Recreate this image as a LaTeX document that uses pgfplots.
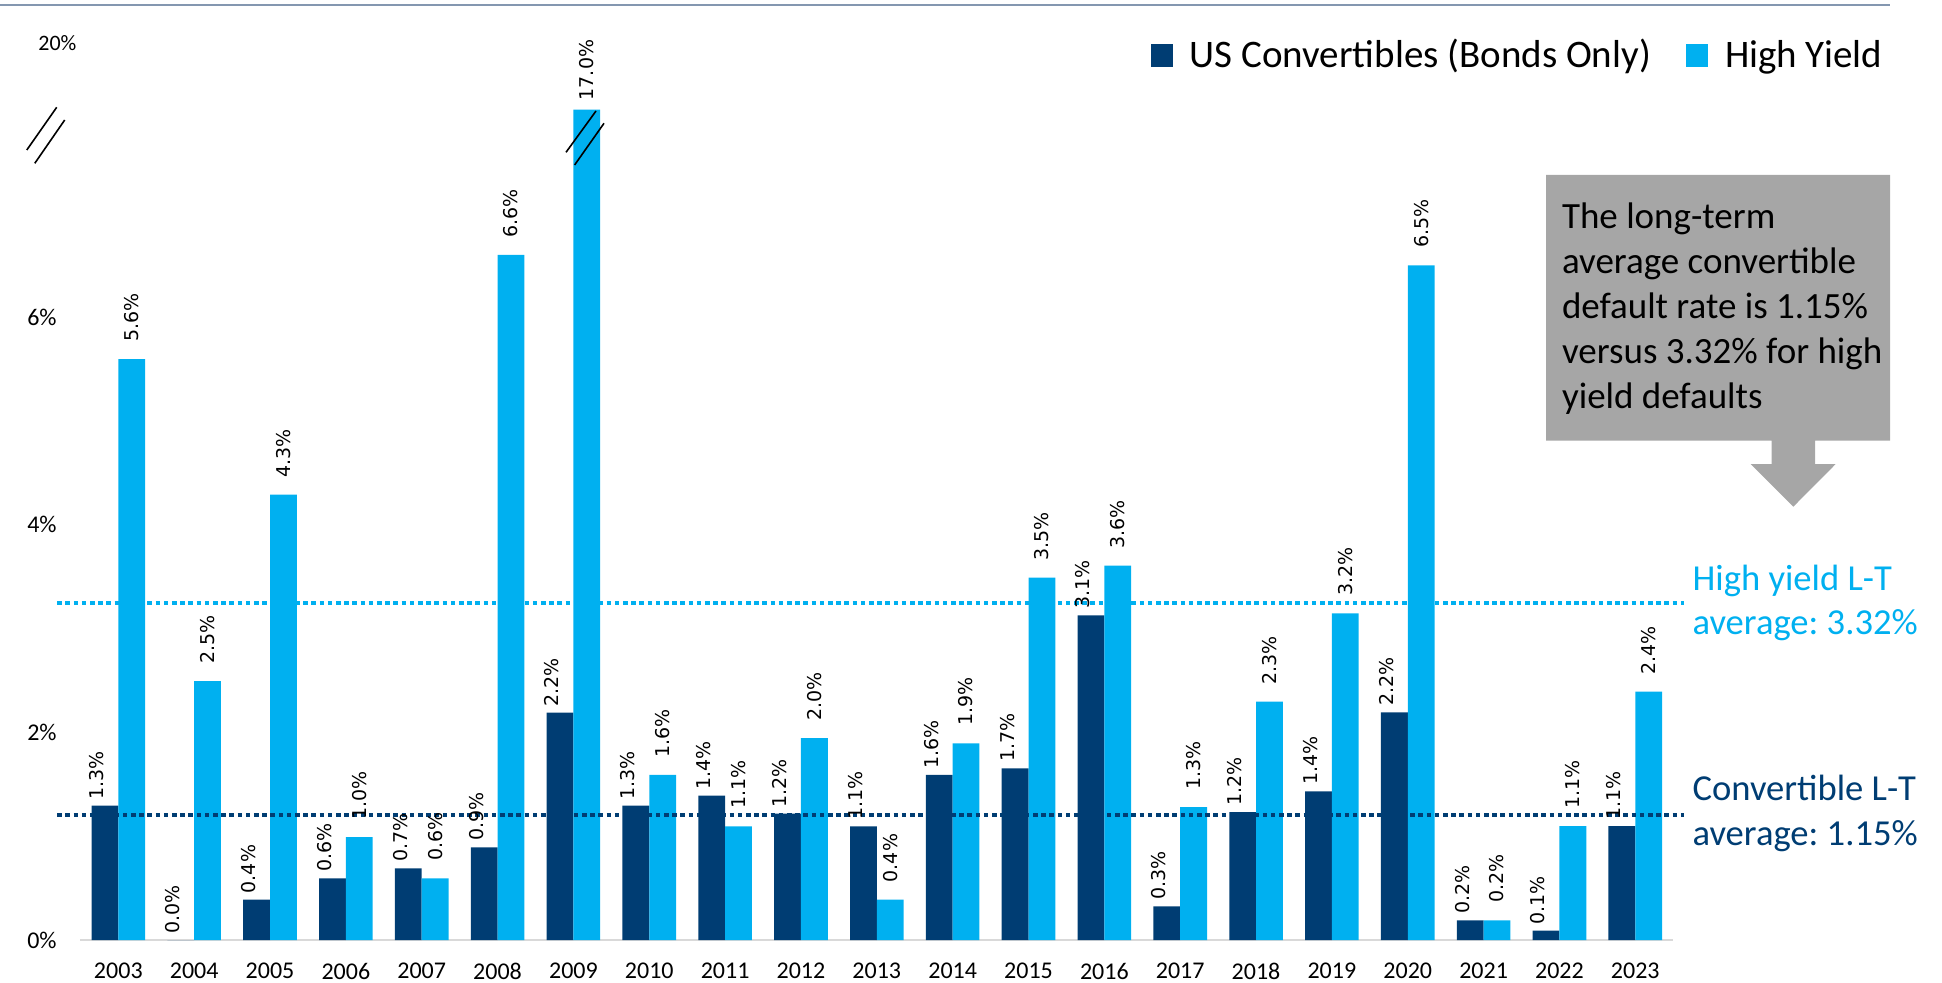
\documentclass[border=0pt]{standalone}
\usepackage{fontspec}
\setmainfont{Carlito}
\newfontfamily\labfont{DejaVu Sans}
\usepackage{pgfplots}
\usepackage{pgfplotstable}
\pgfplotsset{compat=1.18}
\definecolor{navy}{RGB}{0,61,115}
\definecolor{hyblue}{RGB}{0,176,240}
\definecolor{boxgray}{RGB}{166,166,166}
\definecolor{topline}{RGB}{132,151,176}
\definecolor{baseline}{RGB}{217,217,217}
\frenchspacing

\pgfplotstableread{
x y lab dx
0 1.294 1.3 2
1 0 0.0 2
2 0.39 0.4 2
3 0.594 0.6 2
4 0.69 0.7 2
5 0.893 0.9 2
6 2.19 2.2 2
7 1.294 1.3 2
8 1.39 1.4 2
9 1.217 1.2 2
10 1.095 1.1 2
11 1.59 1.6 2
12 1.654 1.7 2
13 3.128 3.1 2
14 0.324 0.3 2
15 1.233 1.2 2
16 1.432 1.4 2
17 2.193 2.2 2
18 0.19 0.2 2
19 0.09 0.1 2
20 1.098 1.1 2
}\convtable

\pgfplotstableread{
x y lab dx
0 5.595 5.6 7.5
1 2.495 2.5 7.5
2 4.29 4.3 7.5
3 0.99 1.0 7.5
4 0.594 0.6 7.5
5 6.6 6.6 7.5
6 8.0 17.0 3.5
7 1.59 1.6 7.5
8 1.095 1.1 7.5
9 1.946 2.0 7.5
10 0.39 0.4 7.5
11 1.895 1.9 7.5
12 3.49 3.5 7.5
13 3.606 3.6 7.5
14 1.28 1.3 7.5
15 2.296 2.3 7.5
16 3.147 3.2 7.5
17 6.5 6.5 7.5
18 0.19 0.2 7.5
19 1.098 1.1 7.5
20 2.392 2.4 7.5
}\hytable

\begin{document}
\begin{tikzpicture}
\useasboundingbox (0,0) rectangle (971pt,491pt);
% top rule
\draw[topline, line width=1pt] (0,488.5pt) -- (945pt,488.5pt);

\begin{axis}[
  at={(40.2pt,21pt)}, anchor=south west,
  scale only axis, width=796.4pt, height=467.1pt,
  xmin=-0.5, xmax=20.5, ymin=0, ymax=9,
  clip=false,
  ybar=0pt, bar width=13.4pt,
  axis x line*=bottom, axis y line*=left,
  x axis line style={draw=baseline, line width=0.9pt},
  y axis line style={draw=none},
  tick style={draw=none},
  xtick={0,...,20},
  xticklabels={2003,2004,2005,2006,2007,2008,2009,2010,2011,2012,2013,2014,2015,2016,2017,2018,2019,2020,2021,2022,2023},
  xticklabel style={anchor=north, inner sep=0pt, yshift=-7pt, font=\fontsize{12}{14}\selectfont},
  ytick={0,2,4,6},
  yticklabels={0\%,2\%,4\%,6\%},
  yticklabel style={anchor=east, inner sep=0pt, xshift=-11.7pt, font=\fontsize{12}{14}\selectfont},
  legend image code/.code={\fill[#1] (0pt,0.3pt) rectangle (11pt,11.6pt);},
  legend style={at={(axis description cs:0.6720,0.9480)}, anchor=west,
    draw=none, fill=none, inner sep=0pt, outer sep=0pt,
    legend columns=2, font=\fontsize{19.5}{23}\selectfont,
    cells={anchor=base west, inner sep=0pt},
    /tikz/every odd column/.append style={column sep=6.5pt},
    /tikz/every even column/.append style={column sep=15.5pt}},
  barlab/.style={
    point meta=explicit symbolic,
    visualization depends on={\thisrow{dx} \as \labdx},
    nodes near coords={\labfont\pgfplotspointmeta\%},
    every node near coord/.append style={font=\fontsize{9.5}{11}\selectfont, rotate=90, anchor=west, inner sep=1pt, text=black, xshift=\labdx pt}},
]
\addplot[fill=navy, draw=none, barlab, every node near coord/.append style={yshift=4pt}] table[x=x, y=y, meta=lab] {\convtable};
\addlegendentry{US Convertibles (Bonds Only)}
\addplot[fill=hyblue, draw=none, barlab] table[x=x, y=y, meta=lab] {\hytable};
\addlegendentry{High Yield}
% long-term averages
\addplot[draw=hyblue, line width=2pt, dash pattern=on 2.3pt off 1.8pt, sharp plot, forget plot] coordinates {(-0.806,3.245) (20.647,3.245)};
\addplot[draw=navy, line width=2pt, dash pattern=on 2.3pt off 1.8pt, sharp plot, forget plot] coordinates {(-0.806,1.207) (20.647,1.207)};
\end{axis}

% axis break marks
\draw[black, line width=0.8pt] (28.35pt,437.35pt) -- (13.4pt,416pt);
\draw[black, line width=0.8pt] (32.35pt,431pt) -- (17.4pt,409.35pt);
\draw[black, line width=0.8pt] (298pt,435.5pt) -- (283pt,414.85pt);
\draw[black, line width=0.8pt] (302pt,429.35pt) -- (287.3pt,408.5pt);
\node[anchor=east, inner sep=0pt, font=\fontsize{11}{13}\selectfont] at (38.4pt,469.35pt) {20\%};

% callout
\fill[boxgray] (773pt,403.5pt) -- (945pt,403.5pt) -- (945pt,270.65pt) -- (907.5pt,270.65pt)
  -- (907.5pt,259pt) -- (917.85pt,259pt) -- (896.65pt,237.65pt) -- (875.35pt,259pt)
  -- (885.85pt,259pt) -- (885.85pt,270.65pt) -- (773pt,270.65pt) -- cycle;
\node[anchor=base west, inner sep=0pt, align=left, font=\fontsize{18.5}{22.5}\selectfont] at (780.8pt,286.85pt)
  {The long-term\\average convertible\\default rate is 1.15\%\\versus 3.32\% for high\\yield defaults};

% average labels
\node[anchor=base west, inner sep=0pt, align=left, text=hyblue, font=\fontsize{18.3}{21.7}\selectfont] at (846.1pt,174pt)
  {High yield L-T\\average: 3.32\%};
\node[anchor=base west, inner sep=0pt, align=left, text=navy, font=\fontsize{18.3}{22.2}\selectfont] at (846.1pt,68.5pt)
  {Convertible L-T\\average: 1.15\%};
\end{tikzpicture}
\end{document}
